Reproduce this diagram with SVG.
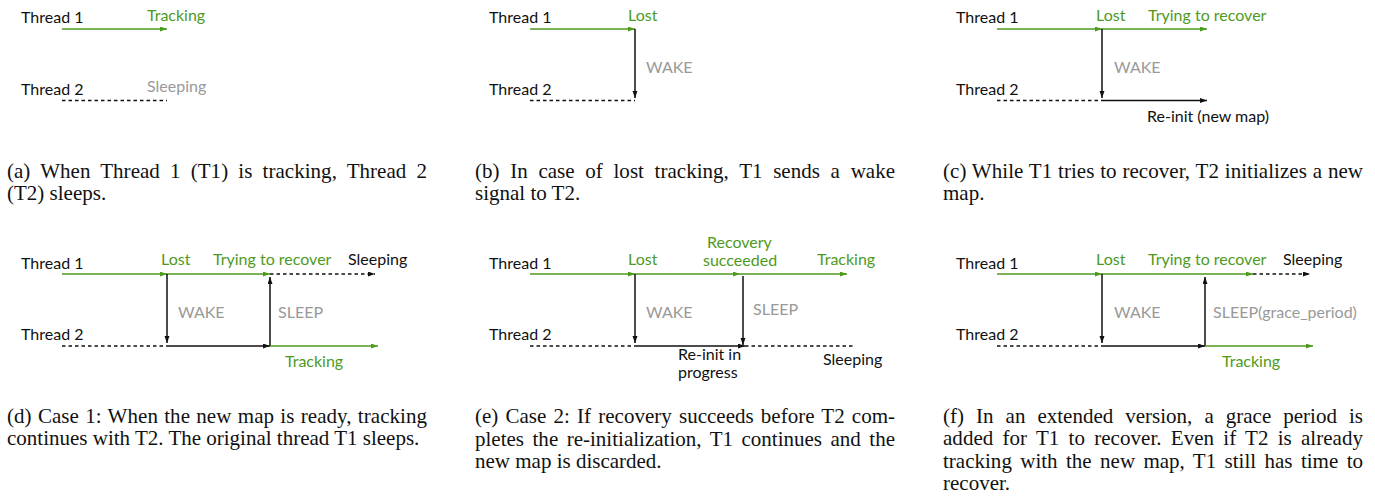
<svg xmlns="http://www.w3.org/2000/svg" width="1375" height="497" viewBox="0 0 1375 497">
<style>
.lbl{font-family:Lato,"Open Sans","DejaVu Sans",sans-serif;font-size:16px;fill:#111}
.g{fill:#4e9a1e}
.gr{fill:#999}
.cap{font-family:"Liberation Serif","Times New Roman",serif;font-size:21px;fill:#111}
.lg{stroke:#4e9a1e;stroke-width:1.5;fill:none}
.lk{stroke:#111;stroke-width:1.5;fill:none}
.ld{stroke:#111;stroke-width:1.5;fill:none;stroke-dasharray:3.5,3}
</style>
<defs>
<marker id="ag" markerUnits="userSpaceOnUse" markerWidth="8" markerHeight="6" refX="7" refY="2.5" orient="auto"><path d="M0,0 L7,2.5 L0,5 z" fill="#4e9a1e"/></marker>
<marker id="ak" markerUnits="userSpaceOnUse" markerWidth="8" markerHeight="6" refX="7" refY="2.5" orient="auto"><path d="M0,0 L7,2.5 L0,5 z" fill="#111"/></marker>
</defs>
<rect width="1375" height="497" fill="#fff"/>

<!-- Panel a -->
<g id="panel-a">
<g id="a-labels">
<text class="lbl" x="21" y="23">Thread 1</text>
<text class="lbl" x="21" y="95">Thread 2</text>
<text class="lbl g" x="147" y="21">Tracking</text>
<text class="lbl gr" x="147" y="92">Sleeping</text>
</g>
<g id="a-connectors">
<line class="lg" x1="62" y1="29" x2="167" y2="29" marker-end="url(#ag)"/>
<line class="ld" x1="62" y1="100.5" x2="167" y2="100.5"/>
</g>
<text class="cap" x="7" y="178" word-spacing="4.9" textLength="420" lengthAdjust="spacing">(a) When Thread 1 (T1) is tracking, Thread 2</text>
<text class="cap" x="7" y="200">(T2) sleeps.</text>
</g>

<!-- Panel b -->
<g id="panel-b">
<g id="b-labels">
<text class="lbl" x="489" y="23">Thread 1</text>
<text class="lbl" x="489" y="95">Thread 2</text>
<text class="lbl g" x="628" y="21">Lost</text>
<text class="lbl gr" x="646" y="73">WAKE</text>
</g>
<g id="b-connectors">
<line class="lg" x1="530" y1="29" x2="635" y2="29" marker-end="url(#ag)"/>
<line class="lk" x1="635" y1="29" x2="635" y2="98" marker-end="url(#ak)"/>
<line class="ld" x1="530" y1="100.5" x2="635" y2="100.5"/>
</g>
<text class="cap" x="475" y="178" word-spacing="5.4" textLength="420" lengthAdjust="spacing">(b) In case of lost tracking, T1 sends a wake</text>
<text class="cap" x="475" y="200">signal to T2.</text>
</g>

<!-- Panel c -->
<g id="panel-c">
<g id="c-labels">
<text class="lbl" x="956" y="23">Thread 1</text>
<text class="lbl" x="956" y="95">Thread 2</text>
<text class="lbl g" x="1096" y="21">Lost</text>
<text class="lbl g" x="1148" y="21">Trying to recover</text>
<text class="lbl gr" x="1114" y="73">WAKE</text>
<text class="lbl" x="1147" y="122">Re-init (new map)</text>
</g>
<g id="c-connectors">
<line class="lg" x1="997" y1="29" x2="1102" y2="29" marker-end="url(#ag)"/>
<line class="lg" x1="1102" y1="29" x2="1207" y2="29" marker-end="url(#ag)"/>
<line class="lk" x1="1102" y1="29" x2="1102" y2="98" marker-end="url(#ak)"/>
<line class="ld" x1="997" y1="100.5" x2="1102" y2="100.5"/>
<line class="lk" x1="1102" y1="100.5" x2="1207" y2="100.5" marker-end="url(#ak)"/>
</g>
<text class="cap" x="943" y="178" word-spacing="0.5" textLength="420" lengthAdjust="spacing">(c) While T1 tries to recover, T2 initializes a new</text>
<text class="cap" x="943" y="200">map.</text>
</g>

<!-- Panel d -->
<g id="panel-d">
<g id="d-labels">
<text class="lbl" x="21" y="269">Thread 1</text>
<text class="lbl" x="21" y="340">Thread 2</text>
<text class="lbl g" x="161" y="265">Lost</text>
<text class="lbl g" x="213" y="265">Trying to recover</text>
<text class="lbl" x="348" y="265">Sleeping</text>
<text class="lbl gr" x="178" y="318">WAKE</text>
<text class="lbl gr" x="278" y="318">SLEEP</text>
<text class="lbl g" x="285" y="367">Tracking</text>
</g>
<g id="d-connectors">
<line class="lg" x1="62" y1="274" x2="167" y2="274" marker-end="url(#ag)"/>
<line class="lg" x1="167" y1="274" x2="270" y2="274" marker-end="url(#ag)"/>
<line class="ld" x1="270" y1="274" x2="375" y2="274" marker-end="url(#ak)"/>
<line class="lk" x1="167" y1="274" x2="167" y2="343" marker-end="url(#ak)"/>
<line class="lk" x1="270" y1="346" x2="270" y2="277" marker-end="url(#ak)"/>
<line class="ld" x1="62" y1="346" x2="167" y2="346"/>
<line class="lk" x1="167" y1="346" x2="270" y2="346" marker-end="url(#ak)"/>
<line class="lg" x1="270" y1="346" x2="378" y2="346" marker-end="url(#ag)"/>
</g>
<text class="cap" x="7" y="423" word-spacing="1" textLength="420" lengthAdjust="spacing">(d) Case 1: When the new map is ready, tracking</text>
<text class="cap" x="7" y="445">continues with T2. The original thread T1 sleeps.</text>
</g>

<!-- Panel e -->
<g id="panel-e">
<g id="e-labels">
<text class="lbl" x="489" y="269">Thread 1</text>
<text class="lbl" x="489" y="340">Thread 2</text>
<text class="lbl g" x="628" y="265">Lost</text>
<text class="lbl g" x="707" y="248">Recovery</text>
<text class="lbl g" x="703" y="266">succeeded</text>
<text class="lbl g" x="817" y="265">Tracking</text>
<text class="lbl gr" x="646" y="318">WAKE</text>
<text class="lbl gr" x="753" y="315">SLEEP</text>
<text class="lbl" x="678" y="360">Re-init in</text>
<text class="lbl" x="678" y="378">progress</text>
<text class="lbl" x="823" y="365">Sleeping</text>
</g>
<g id="e-connectors">
<line class="lg" x1="530" y1="274" x2="635" y2="274" marker-end="url(#ag)"/>
<line class="lg" x1="635" y1="274" x2="740" y2="274" marker-end="url(#ag)"/>
<line class="lg" x1="740" y1="274" x2="847" y2="274" marker-end="url(#ag)"/>
<line class="lk" x1="635" y1="274" x2="635" y2="343" marker-end="url(#ak)"/>
<line class="lk" x1="743" y1="276" x2="743" y2="345" marker-end="url(#ak)"/>
<line class="ld" x1="530" y1="346" x2="635" y2="346"/>
<line class="lk" x1="635" y1="346" x2="745" y2="346" marker-end="url(#ak)"/>
<line class="ld" x1="745" y1="346" x2="853" y2="346"/>
</g>
<text class="cap" x="475" y="423" word-spacing="1.9" textLength="420" lengthAdjust="spacing">(e) Case 2: If recovery succeeds before T2 com-</text>
<text class="cap" x="475" y="446" word-spacing="3.2" textLength="420" lengthAdjust="spacing">pletes the re-initialization, T1 continues and the</text>
<text class="cap" x="475" y="468">new map is discarded.</text>
</g>

<!-- Panel f -->
<g id="panel-f">
<g id="f-labels">
<text class="lbl" x="956" y="269">Thread 1</text>
<text class="lbl" x="956" y="340">Thread 2</text>
<text class="lbl g" x="1096" y="265">Lost</text>
<text class="lbl g" x="1148" y="265">Trying to recover</text>
<text class="lbl" x="1283" y="265">Sleeping</text>
<text class="lbl gr" x="1114" y="318">WAKE</text>
<text class="lbl gr" x="1213" y="318">SLEEP(grace_period)</text>
<text class="lbl g" x="1222" y="367">Tracking</text>
</g>
<g id="f-connectors">
<line class="lg" x1="997" y1="274" x2="1102" y2="274" marker-end="url(#ag)"/>
<line class="lg" x1="1102" y1="274" x2="1253" y2="274" marker-end="url(#ag)"/>
<line class="ld" x1="1253" y1="274" x2="1310" y2="274" marker-end="url(#ak)"/>
<line class="lk" x1="1102" y1="274" x2="1102" y2="343" marker-end="url(#ak)"/>
<line class="lk" x1="1205" y1="346" x2="1205" y2="277" marker-end="url(#ak)"/>
<line class="ld" x1="997" y1="346" x2="1102" y2="346"/>
<line class="lk" x1="1102" y1="346" x2="1205" y2="346" marker-end="url(#ak)"/>
<line class="lg" x1="1205" y1="346" x2="1313" y2="346" marker-end="url(#ag)"/>
</g>
<text class="cap" x="943" y="423" word-spacing="6.8" textLength="420" lengthAdjust="spacing">(f) In an extended version, a grace period is</text>
<text class="cap" x="943" y="445" word-spacing="3.9" textLength="420" lengthAdjust="spacing">added for T1 to recover. Even if T2 is already</text>
<text class="cap" x="943" y="468" word-spacing="3.1" textLength="420" lengthAdjust="spacing">tracking with the new map, T1 still has time to</text>
<text class="cap" x="943" y="490">recover.</text>
</g>
</svg>
